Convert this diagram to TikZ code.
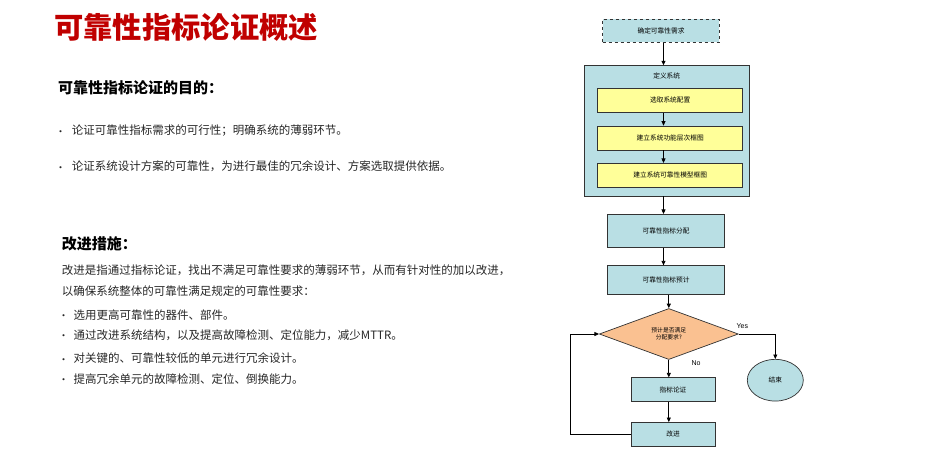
\documentclass[tikz,border=0pt]{standalone}
\usepackage{fontspec}
\setmainfont{Noto Sans CJK SC}
\newfontfamily\arialfont{Liberation Sans}
\usetikzlibrary{arrows.meta,shapes.geometric,positioning}
\definecolor{boxblue}{RGB}{185,223,228}
\definecolor{boxyellow}{RGB}{255,255,153}
\definecolor{diaorange}{RGB}{250,193,145}
\definecolor{titlered}{RGB}{192,0,0}
\definecolor{bodytext}{RGB}{38,38,38}
\begin{document}
\begin{tikzpicture}[x=1pt,y=-1pt,
    blockstyle/.style={draw=black!80,fill=boxblue,line width=0.7pt,minimum width=116.6pt,
        minimum height=28.6pt,inner sep=0pt,font=\fontsize{6.7}{7}\selectfont},
    substyle/.style={blockstyle,fill=boxyellow,minimum width=145pt,minimum height=24pt},
    arr/.style={-{Triangle[length=4.5pt,width=4pt]},line width=0.8pt},
    bodystyle/.style={anchor=west,inner sep=0pt,text=bodytext,font=\fontsize{11.5}{13}\selectfont},
    dotstyle/.style={inner sep=0pt,text=bodytext,font=\fontsize{10}{11}\selectfont},
    headstyle/.style={anchor=west,inner sep=0pt,font=\fontsize{15}{17}\bfseries\selectfont}]
    \useasboundingbox (0,0) rectangle (926,451);

    % left text
    \node[anchor=west,inner sep=0pt,text=titlered,font=\fontsize{29.3}{32}\bfseries\selectfont] (title) at (54,27) {可靠性指标论证概述};
    \node[headstyle] (aimhead) at (58,87.5) {可靠性指标论证的目的：};
    \foreach \y/\t [count=\i] in {130.7/论证可靠性指标需求的可行性；明确系统的薄弱环节。,
        166.7/论证系统设计方案的可靠性，为进行最佳的冗余设计、方案选取提供依据。} {
        \node[dotstyle] (aimdot\i) at (60.5,\y+2.5) {•};
        \node[bodystyle] (aim\i) at (71.7,\y) {\t};
    }
    \node[headstyle] (imphead) at (61.7,243.3) {改进措施：};
    \node[bodystyle] (impline1) at (61.7,270) {改进是指通过指标论证，找出不满足可靠性要求的薄弱环节，从而有针对性的加以改进，};
    \node[bodystyle] (impline2) at (61.7,291) {以确保系统整体的可靠性满足规定的可靠性要求：};
    \foreach \y/\t [count=\i] in {315/选用更高可靠性的器件、部件。,
        335/通过改进系统结构，以及提高故障检测、定位能力，减少MTTR。,
        358.3/对关键的、可靠性较低的单元进行冗余设计。,
        379/提高冗余单元的故障检测、定位、倒换能力。} {
        \node[dotstyle] (impdot\i) at (63.5,\y+2.5) {•};
        \node[bodystyle] (imp\i) at (73.3,\y) {\t};
    }

    % flow chart
    \node[blockstyle,dashed,minimum height=23.3pt] (req) at (661,30.7) {确定可靠性需求};
    \node[blockstyle,minimum width=165.3pt,minimum height=130.3pt] (sys) at (666.7,130.8) {};
    \node[inner sep=0pt,font=\fontsize{6.7}{7}\selectfont] (systitle) at (666.7,76) {定义系统};
    \node[substyle] (cfg) at (670.2,100.3) {选取系统配置};
    \node[substyle] (fun) at (670.2,138) {建立系统功能层次框图};
    \node[substyle] (mdl) at (670.2,175.3) {建立系统可靠性模型框图};
    \node[blockstyle,minimum height=33pt] (alloc) at (666,230.8) {可靠性指标分配};
    \node[blockstyle] (pred) at (666,280) {可靠性指标预计};
    \node[diamond,draw=black!80,fill=diaorange,line width=0.7pt,aspect=2.73,minimum width=139pt,
        minimum height=51pt,inner sep=0pt,align=center,font=\fontsize{5.8}{7}\selectfont] (dia) at (668.8,334) {预计是否满足\\分配要求?};
    \node[ellipse,draw=black!80,fill=boxblue,line width=0.7pt,minimum width=56pt,minimum height=41.7pt,
        inner sep=0pt,font=\fontsize{6.7}{7}\selectfont] (end) at (775.3,380.2) {结束};
    \node[blockstyle,minimum width=84pt,minimum height=23.6pt] (chk) at (673,389.5) {指标论证};
    \node[blockstyle,minimum width=84pt,minimum height=23.6pt] (fix) at (673,434.2) {改进};

    \coordinate (col) at (663.5,0);
    \draw[arr] (req.south -| col) -- (sys.north -| col);
    \draw[arr] (cfg.south -| col) -- (fun.north -| col);
    \draw[arr] (fun.south -| col) -- (mdl.north -| col);
    \draw[arr] (sys.south -| col) -- (alloc.north -| col);
    \draw[arr] (alloc.south -| col) -- (pred.north -| col);
    \draw[arr] (pred.south -| dia.north) -- (dia.north);
    \draw[arr] (dia.east) -| node[pos=0.05,above=2pt,font=\arialfont\fontsize{7}{8}\selectfont] {Yes} (end.north);
    \draw[arr] (dia.south) -- node[right=19pt,pos=0.2,font=\arialfont\fontsize{7}{8}\selectfont] {No} (chk.north -| dia.south);
    \draw[arr] (chk.south -| dia.south) -- (fix.north -| dia.south);
    \draw[arr] (fix.west) -- ++(-60.3,0) |- (dia.west);
\end{tikzpicture}
\end{document}
